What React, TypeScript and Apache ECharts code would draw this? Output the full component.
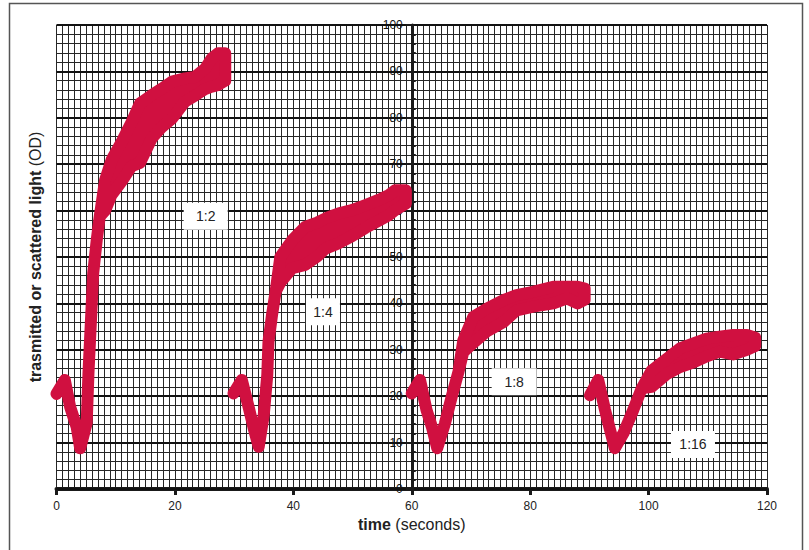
import React, { useEffect, useRef } from 'react';
import * as echarts from 'echarts';

// ---- data (time in seconds, light in OD) ----
// each curve: time, upper edge of the noisy trace, lower edge of the noisy trace
const time12 = [0, 1.4, 2.3, 3.4, 4.0, 5.1, 5.4, 5.8, 6.2, 6.8, 7.3, 8.2, 9.3, 11.0, 12.7, 14.1, 16.1, 17.8, 19.5, 21.7, 23.4, 25.1, 26.2, 27.3, 28.5];
const top12 = [20.5, 23.5, 17.7, 13.4, 8.8, 14.2, 25, 35.8, 46.5, 53.7, 58.7, 66.5, 70.9, 74.8, 79.1, 83.1, 84.9, 86.3, 87.8, 88.5, 88.8, 90.6, 92.8, 93.9, 93.9];
const bot12 = [20.5, 23.5, 17.7, 13.4, 8.8, 14.2, 25, 35.8, 46.5, 53.7, 58.7, 60.0, 63.4, 66.3, 69.6, 70.3, 75.6, 78.0, 79.8, 83.5, 84.8, 86.2, 86.7, 87.1, 88.0];

const time14 = [29.9, 31.3, 32.5, 33.3, 34.15, 35.0, 35.6, 35.8, 36.4, 37.0, 37.8, 39.8, 42.0, 44.0, 45.4, 47.7, 49.9, 52.2, 54.4, 56.1, 57.2, 59.0];
const top14 = [20.6, 23.5, 17.4, 13.1, 9.1, 15.9, 24.6, 31.7, 37.5, 42.5, 50.0, 53.6, 56.5, 57.4, 58.3, 59.4, 60.1, 61.2, 62.3, 63.3, 64.4, 64.4];
const bot14 = [20.6, 23.5, 17.4, 13.1, 9.1, 15.9, 24.6, 31.7, 37.5, 42.5, 44.5, 47.6, 48.3, 50.1, 51.8, 53.0, 54.5, 56.3, 57.8, 59.0, 60.1, 61.5];

const time18 = [60.0, 61.4, 62.5, 63.4, 64.3, 65.6, 66.75, 67.9, 68.7, 70.4, 72.7, 75.5, 77.7, 80.5, 83.9, 86.2, 88.0, 89.2];
const top18 = [20.6, 23.5, 17.0, 13.4, 8.8, 14.1, 19.9, 25.3, 32.0, 37.1, 38.9, 40.7, 41.8, 42.5, 43.6, 43.6, 43.6, 43.2];
const bot18 = [20.6, 23.5, 17.0, 13.4, 8.8, 14.1, 19.9, 25.3, 29.5, 31.5, 34.0, 36.0, 38.5, 39.3, 40.0, 41.1, 40.0, 40.8];

const time116 = [90.1, 91.5, 92.65, 93.5, 94.3, 95.75, 97.4, 98.85, 100.5, 103.1, 105.3, 107.6, 109.8, 112.0, 114.3, 116.6, 118.0];
const top116 = [20.2, 23.5, 17.0, 12.7, 8.8, 12.0, 17.0, 21.7, 25.5, 28.1, 30.3, 31.4, 32.4, 32.8, 33.2, 33.2, 32.6];
const bot116 = [20.2, 23.5, 17.0, 12.7, 8.8, 12.0, 17.0, 21.7, 22.0, 24.8, 26.3, 27.3, 28.6, 29.6, 29.0, 30.0, 30.8];

// dilution labels
const labelTexts = ['1:2', '1:4', '1:8', '1:16'];
const labelTimes = [25.2, 45.0, 77.3, 107.5];
const labelODs = [58.8, 38.2, 23.1, 9.6];

const xTicks = [0, 20, 40, 60, 80, 100, 120];
const yTicks = [0, 10, 20, 30, 40, 50, 60, 70, 80, 90, 100];

// ---- styles ----
const RED = '#D01040';
const GRIDC = '#262626';
const FONT = '"Liberation Sans", Arial, Helvetica, sans-serif';
const labelBoxSizes = [[44, 27], [34, 27], [45, 27], [44, 27]];

const curves = [
  { t: time12, hi: top12, lo: bot12 },
  { t: time14, hi: top14, lo: bot14 },
  { t: time18, hi: top18, lo: bot18 },
  { t: time116, hi: top116, lo: bot116 },
];

const GRID_LEFT = 56.5;
const GRID_RIGHT = 42;
const GRID_W = 809 - GRID_LEFT - GRID_RIGHT;

export default function App() {
  const ref = useRef<HTMLDivElement>(null);
  useEffect(() => {
    if (!ref.current) return;
    const chart = echarts.init(ref.current, undefined, { renderer: 'svg' });
    const nameStyle = {
      fontSize: 16,
      color: '#222',
      fontFamily: FONT,
      rich: { b: { fontSize: 16, fontWeight: 'bold', color: '#222', fontFamily: FONT } },
    };
    const option: any = {
      animation: false,
      backgroundColor: '#fff',
      textStyle: { fontFamily: FONT },
      grid: {
        left: GRID_LEFT,
        right: GRID_RIGHT,
        top: 25,
        bottom: 61,
        containLabel: false,
        outerBoundsMode: 'none',
      },
      graphic: [
        {
          type: 'rect',
          shape: { x: 9.5, y: 3.5, width: 793, height: 600 },
          style: { fill: 'none', stroke: '#555', lineWidth: 1.5 },
          silent: true,
          z: 100,
        },
      ],
      xAxis: {
        type: 'value',
        min: xTicks[0],
        max: xTicks[xTicks.length - 1],
        interval: 20,
        name: '{b|time} (seconds)',
        nameLocation: 'middle',
        nameGap: 25,
        nameTextStyle: nameStyle,
        axisLine: { show: true, onZero: false, lineStyle: { color: '#1a1a1a', width: 4 } },
        axisTick: { show: true, length: 6, lineStyle: { color: '#1a1a1a', width: 3 } },
        minorTick: { show: true, splitNumber: 20, length: -4, lineStyle: { color: '#1a1a1a', width: 1 } },
        axisLabel: { fontSize: 12, color: '#222', margin: 11, fontFamily: FONT },
        splitLine: { show: true, lineStyle: { color: GRIDC, width: 1 } },
        minorSplitLine: { show: true, lineStyle: { color: GRIDC, width: 1 } },
        z: 1,
      },
      yAxis: {
        type: 'value',
        position: 'left',
        offset: -GRID_W / 2,
        min: yTicks[0],
        max: yTicks[yTicks.length - 1],
        interval: 10,
        name: '{b|trasmitted or scattered light} (OD)',
        nameLocation: 'middle',
        nameGap: 368,
        nameTextStyle: nameStyle,
        axisLine: { show: true, onZero: false, lineStyle: { color: '#1a1a1a', width: 3 } },
        axisTick: { show: true, length: 6, lineStyle: { color: '#1a1a1a', width: 2 } },
        minorTick: { show: true, splitNumber: 5, length: -4, lineStyle: { color: '#1a1a1a', width: 2 } },
        axisLabel: { fontSize: 12, color: '#111', margin: 9, fontFamily: FONT },
        splitLine: { show: true, lineStyle: { color: '#111', width: 2 } },
        minorSplitLine: { show: true, lineStyle: { color: GRIDC, width: 1 } },
        z: 2,
      },
      series: [
        {
          type: 'custom',
          data: curves.map((_, i) => [i]),
          renderItem: (params: any, api: any) => {
            const c = curves[params.dataIndex];
            const pts: number[][] = [];
            for (let i = 0; i < c.t.length; i++) pts.push(api.coord([c.t[i], c.hi[i]]));
            for (let i = c.t.length - 1; i >= 0; i--) pts.push(api.coord([c.t[i], c.lo[i]]));
            return {
              type: 'polygon',
              shape: { points: pts },
              style: { fill: RED, stroke: RED, lineWidth: 12, lineJoin: 'round' },
            };
          },
          z: 10,
        },
        {
          type: 'scatter',
          symbol: 'rect',
          data: labelTexts.map((name, i) => ({
            name,
            value: [labelTimes[i], labelODs[i]],
            symbolSize: labelBoxSizes[i],
          })),
          itemStyle: { color: '#fff', opacity: 1 },
          label: {
            show: true,
            position: 'inside',
            formatter: (p: any) => p.name,
            fontSize: 14,
            color: '#222',
            fontFamily: FONT,
          },
          z: 11,
        },
      ],
    };
    chart.setOption(option);
    return () => chart.dispose();
  }, []);
  return (
    <div
      ref={ref}
      style={{ position: 'absolute', left: 0, top: 0, width: 809, height: 550, background: '#fff' }}
    />
  );
}
